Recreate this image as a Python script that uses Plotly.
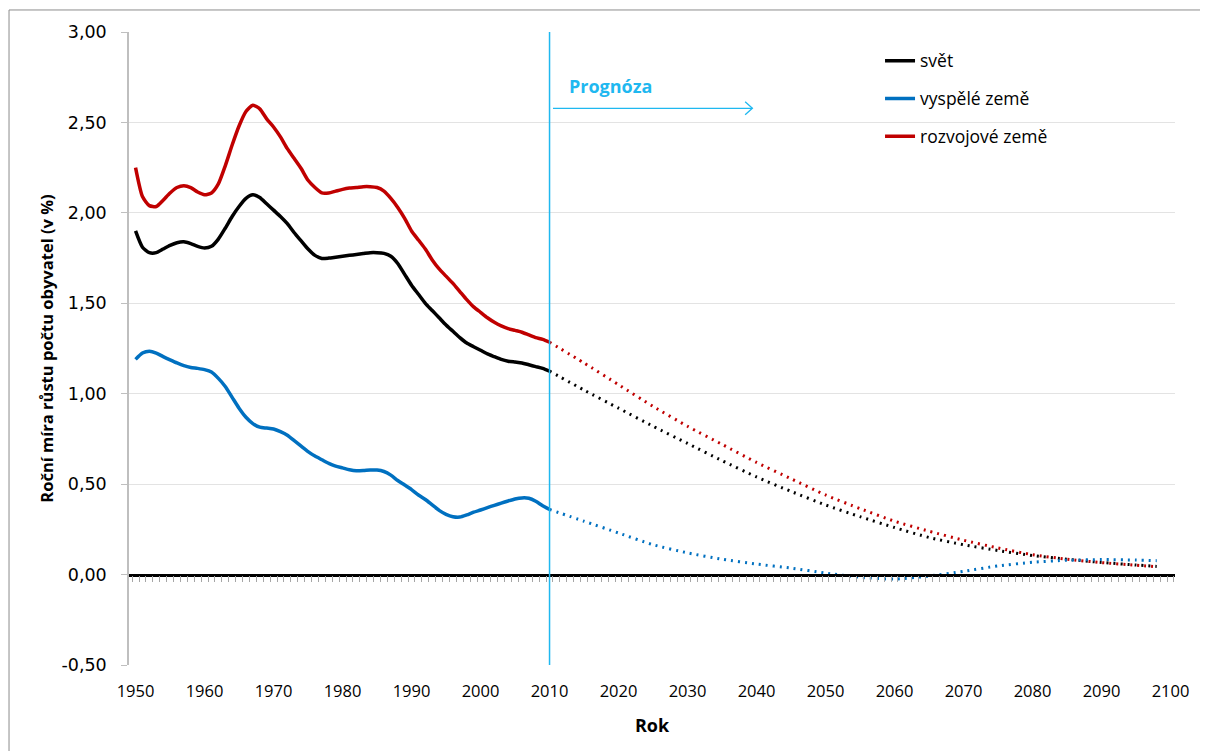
import plotly.graph_objects as go

# ---------------- data ----------------
hist_years = list(range(1950, 2011))
world_hist = [1.90, 1.81, 1.78, 1.78, 1.80, 1.82, 1.835, 1.84, 1.83, 1.815,
              1.806, 1.815, 1.855, 1.915, 1.98, 2.035, 2.08, 2.10, 2.085, 2.05,
              2.015, 1.98, 1.94, 1.89, 1.845, 1.80, 1.765, 1.748, 1.75, 1.755,
              1.76, 1.765, 1.77, 1.775, 1.78, 1.78, 1.776, 1.76, 1.72, 1.66,
              1.60, 1.55, 1.50, 1.46, 1.42, 1.38, 1.345, 1.31, 1.28, 1.26,
              1.24, 1.22, 1.205, 1.19, 1.18, 1.175, 1.17, 1.16, 1.15, 1.14,
              1.125]
developing_hist = [2.25, 2.09, 2.04, 2.035, 2.07, 2.11, 2.14, 2.15, 2.14, 2.115,
                   2.10, 2.11, 2.16, 2.26, 2.375, 2.48, 2.56, 2.595, 2.575, 2.52,
                   2.475, 2.42, 2.355, 2.30, 2.245, 2.18, 2.14, 2.11, 2.11, 2.12,
                   2.13, 2.137, 2.14, 2.145, 2.145, 2.14, 2.12, 2.08, 2.03, 1.97,
                   1.90, 1.85, 1.80, 1.74, 1.69, 1.65, 1.61, 1.565, 1.52, 1.48,
                   1.45, 1.42, 1.395, 1.375, 1.36, 1.35, 1.34, 1.325, 1.31, 1.30,
                   1.285]
developed_hist = [1.19, 1.225, 1.235, 1.225, 1.205, 1.187, 1.17, 1.155, 1.145, 1.14,
                  1.133, 1.12, 1.085, 1.04, 0.98, 0.92, 0.87, 0.835, 0.815, 0.81,
                  0.805, 0.79, 0.77, 0.74, 0.71, 0.68, 0.655, 0.635, 0.615, 0.60,
                  0.59, 0.58, 0.574, 0.575, 0.578, 0.578, 0.57, 0.55, 0.52, 0.495,
                  0.47, 0.44, 0.415, 0.385, 0.355, 0.333, 0.32, 0.318, 0.33, 0.345,
                  0.357, 0.37, 0.383, 0.395, 0.407, 0.418, 0.424, 0.422, 0.405, 0.38,
                  0.36]

fc_years = [2010, 2015, 2020, 2025, 2030, 2035, 2040, 2045, 2050, 2055,
            2060, 2065, 2070, 2075, 2080, 2085, 2090, 2095, 2098]
world_fc = [1.125, 1.02, 0.92, 0.82, 0.725, 0.63, 0.54, 0.46, 0.385, 0.32,
            0.26, 0.205, 0.165, 0.133, 0.105, 0.085, 0.067, 0.053, 0.045]
developing_fc = [1.285, 1.17, 1.05, 0.93, 0.82, 0.72, 0.62, 0.53, 0.44, 0.365,
                 0.295, 0.24, 0.19, 0.147, 0.11, 0.085, 0.066, 0.052, 0.043]
developed_fc = [0.36, 0.295, 0.23, 0.165, 0.12, 0.085, 0.058, 0.036, 0.008, -0.015,
                -0.025, -0.008, 0.018, 0.048, 0.068, 0.079, 0.083, 0.08, 0.077]

series_names = ["svět", "vyspělé země", "rozvojové země"]
series_colors = ["#000000", "#0070C0", "#C00000"]

x_tick_vals = list(range(1950, 2101, 10))
x_tick_text = [str(v) for v in x_tick_vals]
y_tick_vals = [-0.5, 0.0, 0.5, 1.0, 1.5, 2.0, 2.5, 3.0]
y_tick_text = ["-0,50", "0,00", "0,50", "1,00", "1,50", "2,00", "2,50", "3,00"]

forecast_start = 2010
X_RANGE = [1949.05, 2100.65]
Y_RANGE = [-0.5, 3.0]

FONT = "Open Sans"

fig = go.Figure()

hist = [world_hist, developed_hist, developing_hist]
fc = [world_fc, developed_fc, developing_fc]

# dotted forecasts first (beneath), then solid history
for name, color, vals in zip(series_names, series_colors, fc):
    fig.add_trace(go.Scatter(
        x=fc_years, y=vals, mode="lines", name=name + " (prognóza)",
        line=dict(color=color, width=3, dash="2px,5px", shape="spline", smoothing=0.6),
        showlegend=False, hoverinfo="skip"))

for i, (name, color, vals) in enumerate(zip(series_names, series_colors, hist)):
    fig.add_trace(go.Scatter(
        x=hist_years, y=vals, mode="lines", name=name,
        line=dict(color=color, width=3.5, shape="spline", smoothing=0.6),
        legendgroup=f"g{i}", legendrank=i + 1))

# helper trace for the zero axis with yearly ticks
fig.add_trace(go.Scatter(x=[None], y=[None], xaxis="x2", yaxis="y",
                         showlegend=False, hoverinfo="skip"))

# vertical forecast line
fig.add_shape(type="line", xref="x", yref="paper", x0=forecast_start, x1=forecast_start,
              y0=0, y1=1, line=dict(color="#1FB8F0", width=1.5), layer="above")

# Prognóza arrow
arrow_y = 2.578
arrow_end = 2039.4
fig.add_shape(type="line", xref="x", yref="y", x0=forecast_start + 0.5, x1=arrow_end,
              y0=arrow_y, y1=arrow_y, line=dict(color="#1FB8F0", width=1.3))
fig.add_shape(type="path", xref="x", yref="y",
              path=f"M {arrow_end - 1.05},{arrow_y + 0.036} L {arrow_end},{arrow_y} L {arrow_end - 1.05},{arrow_y - 0.036}",
              line=dict(color="#1FB8F0", width=1.3))
fig.add_annotation(x=forecast_start + 2.6, y=2.70, xref="x", yref="y", text="<b>Prognóza</b>",
                   showarrow=False, xanchor="left", yanchor="middle",
                   font=dict(family=FONT, size=18, color="#1FB8F0"))

# outer chart border (left/top visible)
fig.add_shape(type="rect", xref="paper", yref="paper", x0=-0.1147, x1=1.1, y0=-0.3, y1=1.0348,
              line=dict(color="#8C8C8C", width=1), fillcolor="rgba(0,0,0,0)", layer="below")

fig.update_layout(
    width=1200, height=743,
    margin=dict(l=121, r=33, t=24, b=86),
    paper_bgcolor="white", plot_bgcolor="white",
    font=dict(family=FONT, size=15, color="#000000"),
    showlegend=True,
    legend=dict(x=0.718, y=0.983, xanchor="left", yanchor="top",
                font=dict(family=FONT, size=17.5, color="#000000"),
                bgcolor="rgba(255,255,255,0)", traceorder="grouped", tracegroupgap=12,
                itemwidth=30),
    xaxis=dict(range=X_RANGE, tickmode="array", tickvals=x_tick_vals, ticktext=x_tick_text,
               showgrid=False, showline=False, zeroline=False, ticks="",
               ticklabelstandoff=14,
               tickfont=dict(family=FONT, size=16.5, color="#000000"),
               title=dict(text="<b>Rok</b>", font=dict(family=FONT, size=18), standoff=18)),
    xaxis2=dict(range=X_RANGE, overlaying="x", anchor="free", position=0.5 / 3.5,
                showline=True, linecolor="#000000", linewidth=2.5,
                ticks="outside", ticklen=6, tickcolor="#A6A6A6", tickwidth=1,
                tickmode="linear", tick0=1949.5, dtick=1,
                showticklabels=False, showgrid=False, zeroline=False),
    yaxis=dict(range=Y_RANGE, tickmode="array", tickvals=y_tick_vals, ticktext=y_tick_text,
               showgrid=True, gridcolor="#E3E3E3", gridwidth=1,
               showline=True, linecolor="#BFBFBF", linewidth=1.5,
               ticks="outside", ticklen=6, tickcolor="#BFBFBF",
               zeroline=False, ticklabelstandoff=11,
               tickfont=dict(family="DejaVu Sans", size=17.5, color="#000000"),
               title=dict(text="<b>Roční míra růstu počtu obyvatel (v %)</b>",
                          font=dict(family=FONT, size=16.5), standoff=4)),
)

fig.write_html("out.html")
